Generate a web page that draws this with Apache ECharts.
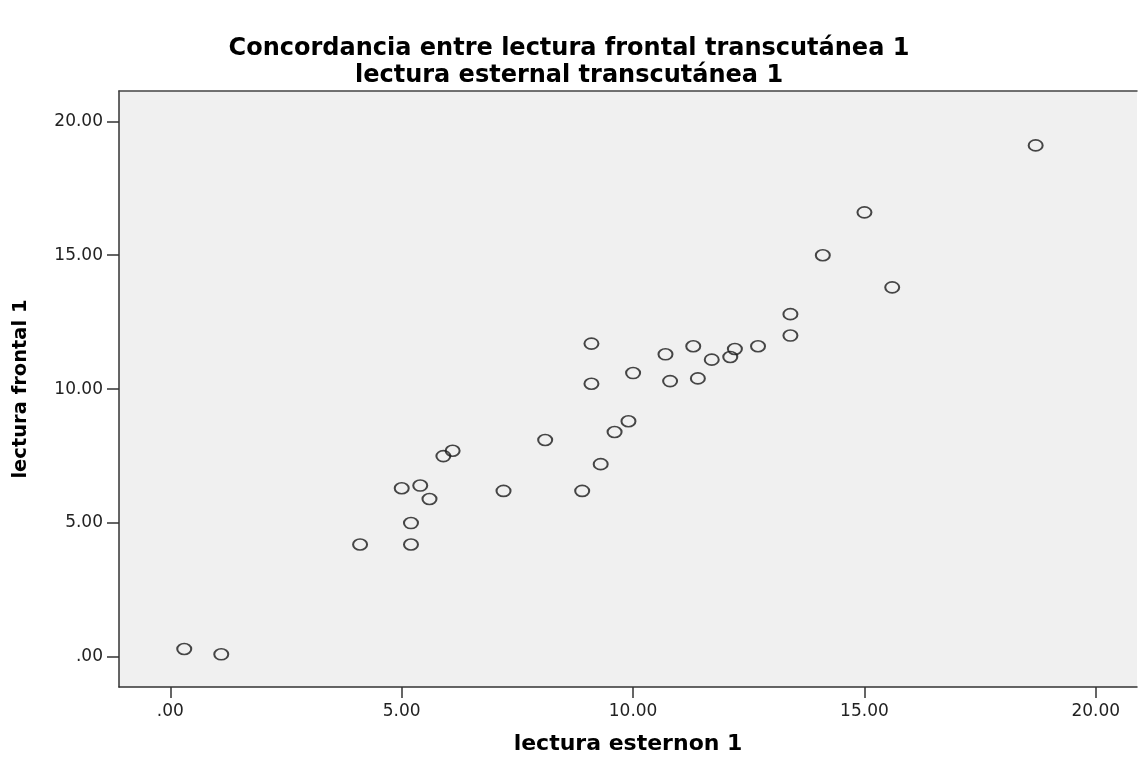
<!DOCTYPE html>
<html>
<head>
<meta charset="utf-8">
<script src="https://cdn.jsdelivr.net/npm/echarts@6/dist/echarts.min.js"></script>
<style>html,body{margin:0;padding:0;background:#fff}#c{width:1138px;height:757px}</style>
</head>
<body>
<div id="c"></div>
<script>
const titleLines = ['Concordancia entre lectura frontal transcutánea 1', 'lectura esternal transcutánea 1'];
const xName = 'lectura esternon 1';
const yName = 'lectura frontal 1';
const xTicks = [0, 5, 10, 15, 20];
const yTicks = [0, 5, 10, 15, 20];
const xTickLabels = ['.00', '5.00', '10.00', '15.00', '20.00'];
const yTickLabels = ['.00', '5.00', '10.00', '15.00', '20.00'];
const esternon = [0.3, 1.1, 4.1, 5.2, 5.2, 5.0, 5.4, 5.6, 5.9, 6.1, 7.2, 8.1, 8.9, 9.3, 9.6, 9.9, 9.1, 9.1, 10.0, 10.7, 10.8, 11.3, 11.4, 11.7, 12.1, 12.2, 12.7, 13.4, 13.4, 15.6, 18.7, 15.0, 14.1];
const frontal  = [0.3, 0.1, 4.2, 4.2, 5.0, 6.3, 6.4, 5.9, 7.5, 7.7, 6.2, 8.1, 6.2, 7.2, 8.4, 8.8, 11.7, 10.2, 10.6, 11.3, 10.3, 11.6, 10.4, 11.1, 11.2, 11.5, 11.6, 12.8, 12.0, 13.8, 19.1, 16.6, 15.0];

const points = esternon.map((x, i) => [x, frontal[i]]);
const fmt = (ticks, labels) => v => { const k = ticks.indexOf(Math.round(v * 100) / 100); return k >= 0 ? labels[k] : ''; };

const chart = echarts.init(document.getElementById('c'), null, {renderer: 'canvas'});
const axisCol = '#333';
const boldFont = 'DejaVu Sans';
chart.setOption({
  animation: false,
  backgroundColor: '#ffffff',
  title: {
    text: titleLines.join('\n'),
    left: 'center',
    top: 30,
    textStyle: {fontFamily: boldFont, fontWeight: 'bold', fontSize: 24, color: '#000', lineHeight: 27}
  },
  grid: {left: 119, right: 1, top: 91, bottom: 70, show: true, backgroundColor: '#f0f0f0', borderWidth: 0, outerBoundsMode: 'none', containLabel: false},
  xAxis: [{
    type: 'value', min: -1.11, max: 20.89,
    name: xName, nameLocation: 'middle', nameGap: 46, nameMoveOverlap: false,
    nameTextStyle: {fontFamily: boldFont, fontWeight: 'bold', fontSize: 22, color: '#000', verticalAlign: 'top'},
    axisLine: {show: true, onZero: false, lineStyle: {color: axisCol, width: 1.5}},
    axisTick: {show: true, length: 11, customValues: xTicks, lineStyle: {color: axisCol, width: 1.5}},
    axisLabel: {customValues: xTicks, formatter: fmt(xTicks, xTickLabels), fontFamily: 'DejaVu Sans', fontSize: 17, color: '#222', margin: 16},
    splitLine: {show: false}
  }, {
    type: 'value', position: 'top', min: -1.11, max: 20.89,
    axisLine: {show: true, onZero: false, lineStyle: {color: '#444', width: 1.5}},
    axisTick: {show: false}, axisLabel: {show: false}, splitLine: {show: false}
  }],
  yAxis: {
    type: 'value', min: -1.12, max: 21.13,
    name: yName, nameLocation: 'middle', nameGap: 88, nameRotate: 90, nameMoveOverlap: false,
    nameTextStyle: {fontFamily: boldFont, fontWeight: 'bold', fontSize: 19.5, color: '#000'},
    axisLine: {show: true, onZero: false, lineStyle: {color: axisCol, width: 1.5}},
    axisTick: {show: true, length: 12, customValues: yTicks, lineStyle: {color: axisCol, width: 1.5}},
    axisLabel: {customValues: yTicks, formatter: fmt(yTicks, yTickLabels), fontFamily: 'DejaVu Sans', fontSize: 17, color: '#222', margin: 16},
    splitLine: {show: false}
  },
  series: [{
    type: 'scatter',
    xAxisIndex: 0,
    data: points,
    symbol: 'circle',
    symbolSize: [14, 11],
    itemStyle: {color: 'rgba(0,0,0,0)', borderColor: '#1a1a1a', borderWidth: 1.8}
  }]
});
</script>
</body>
</html>
